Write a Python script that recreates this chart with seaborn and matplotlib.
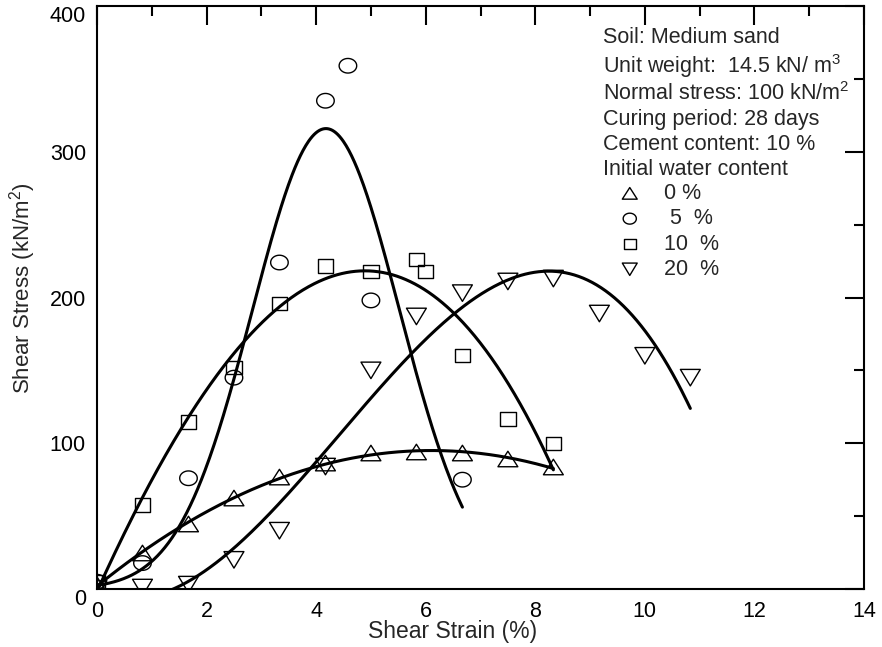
import numpy as np
import pandas as pd
import matplotlib
matplotlib.use("Agg")
import matplotlib.pyplot as plt
from matplotlib.path import Path
from matplotlib.ticker import MultipleLocator
import seaborn as sns

# ---- data ----
strain_0 = [0, 0.83, 1.67, 2.5, 3.33, 4.17, 5.0, 5.83, 6.67, 7.5, 8.33]
stress_0 = [3, 24.7, 44.6, 62.4, 76.8, 86.4, 93.3, 94.0, 93.3, 89.2, 83.7]

strain_5 = [0, 0.83, 1.67, 2.5, 3.33, 4.17, 4.58, 5.0, 6.67]
stress_5 = [5, 17.8, 76, 145, 224, 335, 359, 198, 75]

strain_10 = [0, 0.83, 1.67, 2.5, 3.33, 4.17, 5.0, 5.83, 6.0, 6.67, 7.5, 8.33]
stress_10 = [5, 57.6, 114.6, 152, 196, 221.6, 218, 226, 218, 160, 116.6, 100]

strain_20 = [0, 0.83, 1.67, 2.5, 3.33, 4.17, 5.0, 5.83, 6.67, 7.5, 8.33, 9.17, 10.0, 10.83]
stress_20 = [0, 1, 3, 20, 40, 84, 150, 187, 203, 211, 213, 189, 160, 145]

labels = ["0 %", " 5  %", "10  %", "20  %"]
fit_kind = ["poly3", "gauss", "poly3", "poly3"]

x_ticks = [0, 2, 4, 6, 8, 10, 12, 14]
y_ticks = [0, 100, 200, 300, 400]

info_lines = ["Soil: Medium sand",
              "Unit weight:  14.5 kN/ m$^3$",
              "Normal stress: 100 kN/m$^2$",
              "Curing period: 28 days",
              "Cement content: 10 %",
              "Initial water content"]

# ---- style ----
sns.set_theme(style="white")
plt.rcParams["font.family"] = ["Liberation Sans", "DejaVu Sans"]
plt.rcParams["mathtext.fontset"] = "custom"
plt.rcParams["mathtext.rm"] = "Liberation Sans"
plt.rcParams["mathtext.it"] = "Liberation Sans"
plt.rcParams["mathtext.bf"] = "Liberation Sans"


def poly_marker(verts):
    verts = list(verts) + [verts[0]]
    codes = [Path.MOVETO] + [Path.LINETO] * (len(verts) - 2) + [Path.CLOSEPOLY]
    return Path(verts, codes)


tri_up = poly_marker([(-1, -0.78), (1, -0.78), (0, 0.78)])
tri_dn = poly_marker([(-1, 0.83), (1, 0.83), (0, -0.83)])
square = poly_marker([(-1, -0.85), (1, -0.85), (1, 0.85), (-1, 0.85)])
tt = np.linspace(0, 2 * np.pi, 60)
ellipse = Path(np.column_stack([np.cos(tt), 0.83 * np.sin(tt)]))

markers = [tri_up, ellipse, square, tri_dn]
sizes = [205, 160, 125, 205]


def gauss(p, x):
    return p[0] * np.exp(-(x - p[1]) ** 2 / (2 * p[2] ** 2))


def gauss_fit(x, y):
    p = np.array([y.max(), x[np.argmax(y)], 1.0])
    lam = 1e-2
    r = y - gauss(p, x)
    cost = r @ r
    for _ in range(300):
        a, b, c = p
        e = np.exp(-(x - b) ** 2 / (2 * c ** 2))
        J = np.column_stack([e, a * e * (x - b) / c ** 2, a * e * (x - b) ** 2 / c ** 3])
        A = J.T @ J
        g = J.T @ r
        step = np.linalg.solve(A + lam * np.diag(np.diag(A)), g)
        pn = p + step
        rn = y - gauss(pn, x)
        cn = rn @ rn
        if cn < cost:
            p, r, cost = pn, rn, cn
            lam *= 0.3
        else:
            lam *= 10
    return p


fig = plt.figure(figsize=(8.82, 6.47), dpi=100)
ax = fig.add_axes([97 / 882, 1 - 589 / 647, 767 / 882, 583 / 647])

series = [(strain_0, stress_0), (strain_5, stress_5),
          (strain_10, stress_10), (strain_20, stress_20)]

for (xs, ys), mk, sz, lab, kind in zip(series, markers, sizes, labels, fit_kind):
    xs = np.asarray(xs, float)
    ys = np.asarray(ys, float)
    xf = np.linspace(xs.min(), xs.max(), 400)
    if kind == "gauss":
        yf = gauss(gauss_fit(xs, ys), xf)
    else:
        yf = np.polyval(np.polyfit(xs, ys, int(kind[-1])), xf)
    sns.lineplot(x=xf, y=yf, color="black", lw=2.2,
                 ax=ax, sort=False, estimator=None, legend=False)
    sns.scatterplot(x=xs, y=ys, marker=mk, s=sz, facecolors="none",
                    edgecolor="black", color="black", linewidth=1.0,
                    ax=ax, label=lab, zorder=3)

ax.set_xlim(0, 14)
ax.set_ylim(0, 400)
ax.set_xticks(x_ticks)
ax.set_yticks(y_ticks)
ax.xaxis.set_minor_locator(MultipleLocator(1))
ax.yaxis.set_minor_locator(MultipleLocator(50))
ax.tick_params(which="both", direction="in", top=True, right=True,
               width=1.5, colors="black", labelsize=15.5)
ax.tick_params(which="major", length=14)
ax.tick_params(which="minor", length=7)
ax.tick_params(axis="x", pad=8.5)
ax.tick_params(axis="y", pad=8)
for sp in ax.spines.values():
    sp.set_linewidth(1.5)
    sp.set_color("black")

ax.set_xlabel("Shear Strain (%)", fontsize=16.5)
ax.set_ylabel("Shear Stress (kN/m$^2$)", fontsize=16)
ax.xaxis.set_label_coords(0.464, -0.053)
ax.yaxis.set_label_coords(-0.077, 0.516)

fig.canvas.draw()
ylabs = ax.get_yticklabels()
ylabs[0].set_va("top")
ylabs[-1].set_va("top")

info_y = [43, 73, 100, 125, 150, 175]
for txt, py in zip(info_lines, info_y):
    ax.text((603 - 97) / 767, (589 - py) / 583, txt, transform=ax.transAxes,
            fontsize=15.5, ha="left", va="baseline")

ax.legend(loc="upper left", bbox_to_anchor=((619 - 97) / 767, (589 - 183) / 583),
          frameon=False, borderpad=0, borderaxespad=0, handlelength=1.0,
          handletextpad=1.1, labelspacing=0.2, markerscale=0.75,
          fontsize=15.5)

fig.savefig("out.png", dpi=100)
